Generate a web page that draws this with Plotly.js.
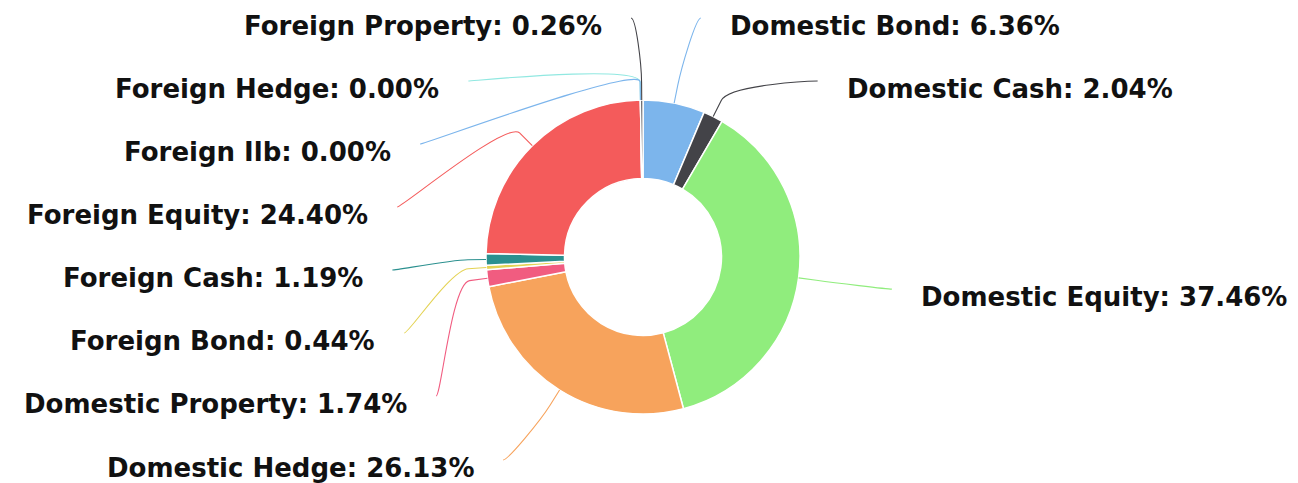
<!DOCTYPE html>
<html><head><meta charset="utf-8">
<script src="https://cdn.plot.ly/plotly-3.0.1.min.js"></script>
<style>html,body{margin:0;padding:0;background:#fff;} #chart{width:1298px;height:483px;}</style>
</head><body><div id="chart"></div>
<script>
// ---- data ----
const categories = ['Domestic Bond','Domestic Cash','Domestic Equity','Domestic Hedge','Domestic Property','Foreign Bond','Foreign Cash','Foreign Equity','Foreign Hedge','Foreign Ilb','Foreign Property'];
const shares = [6.36, 2.04, 37.46, 26.13, 1.74, 0.44, 1.19, 24.40, 0.00, 0.00, 0.26];
const sliceColors = ['#7cb5ec','#434348','#90ed7d','#f7a35c','#f15c80','#e4d354','#2b908f','#f45b5b','#91e8e1','#7cb5ec','#434348'];

// ---- layout geometry (pixels) ----
const W = 1298, H = 483;
const CX = 643, CY = 257, R = 157;
const LABEL_R = 241, PAD = 10, BREAK = 18, GAP = 27, STEP = 63, YTOP = 18, YBOT = 460, TEXT_DY = 8;

const px = x => x / W;
const py = y => 1 - y / H;

const total = shares.reduce((a, b) => a + b, 0);
let cum = 0;
const pts = categories.map((name, i) => {
  const start = cum; cum += shares[i];
  const mid = (start + shares[i] / 2) / total * 2 * Math.PI; // clockwise from top
  const s = Math.sin(mid), c = Math.cos(mid);
  return {
    i, name, value: shares[i], color: sliceColors[i], mid,
    left: s < 0,
    nat: CY - LABEL_R * c,
    tx: CX + R * s, ty: CY - R * c,
    bx: CX + (R + BREAK) * s, by: CY - (R + BREAK) * c
  };
});

function distribute(items) {
  items.sort((a, b) => (a.nat - b.nat) || (a.i - b.i));
  let boxes = items.map(it => ({ items: [it], targets: [it.nat] }));
  let changed = true;
  while (changed) {
    changed = false;
    boxes.forEach(b => {
      const span = (b.items.length - 1) * STEP;
      const c = (Math.min(...b.targets) + Math.max(...b.targets)) / 2;
      let first = c - span / 2;
      first = Math.max(YTOP, Math.min(first, YBOT - span));
      b.first = first;
    });
    for (let k = boxes.length - 1; k > 0; k--) {
      const a = boxes[k - 1], b = boxes[k];
      const aLast = a.first + (a.items.length - 1) * STEP;
      if (aLast + STEP > b.first + 1e-6) {
        a.items = a.items.concat(b.items);
        a.targets = a.targets.concat(b.targets);
        boxes.splice(k, 1);
        changed = true;
      }
    }
  }
  boxes.forEach(b => b.items.forEach((it, k) => { it.y = b.first + k * STEP; }));
}
distribute(pts.filter(p => !p.left));
distribute(pts.filter(p => p.left));

const shapes = [], annotations = [];
pts.forEach(p => {
  const dyRaw = p.y - CY;
  const yForX = (Math.abs(dyRaw) >= LABEL_R - 6) ? p.nat : p.y;
  const dx = Math.sqrt(Math.max(0, LABEL_R * LABEL_R - (yForX - CY) * (yForX - CY)));
  const sign = p.left ? -1 : 1;
  const lx = CX + sign * (dx + PAD), ly = p.y;
  const c1x = lx - sign * 5, c1y = ly;
  const c2x = 2 * p.bx - p.tx, c2y = 2 * p.by - p.ty;
  const path = `M ${px(lx)} ${py(ly)} C ${px(c1x)} ${py(c1y)} ${px(c2x)} ${py(c2y)} ${px(p.bx)} ${py(p.by)} L ${px(p.tx)} ${py(p.ty)}`;
  shapes.push({ type: 'path', xref: 'paper', yref: 'paper', path, line: { color: p.color, width: 1.1 }, layer: 'above' });
  annotations.push({
    xref: 'paper', yref: 'paper', x: px(lx + sign * GAP), y: py(ly + TEXT_DY),
    xanchor: p.left ? 'right' : 'left', yanchor: 'middle', showarrow: false,
    text: `${p.name}: ${p.value.toFixed(2)}%`,
    font: { family: 'DejaVu Sans, Verdana, sans-serif', size: 26, color: '#111', weight: 700 }
  });
});

const trace = {
  type: 'pie', labels: categories, values: shares, sort: false, direction: 'clockwise', rotation: 0,
  hole: 0.5, textinfo: 'none', hoverinfo: 'label+percent',
  marker: { colors: sliceColors, line: { color: '#ffffff', width: 1.5 } },
  domain: { x: [px(CX - R), px(CX + R)], y: [py(CY + R), py(CY - R)] },
  showlegend: false
};

Plotly.newPlot('chart', [trace], {
  width: W, height: H, margin: { l: 0, r: 0, t: 0, b: 0 },
  paper_bgcolor: '#fff', plot_bgcolor: '#fff', showlegend: false,
  shapes, annotations
}, { displayModeBar: false, staticPlot: true });
</script></body></html>
